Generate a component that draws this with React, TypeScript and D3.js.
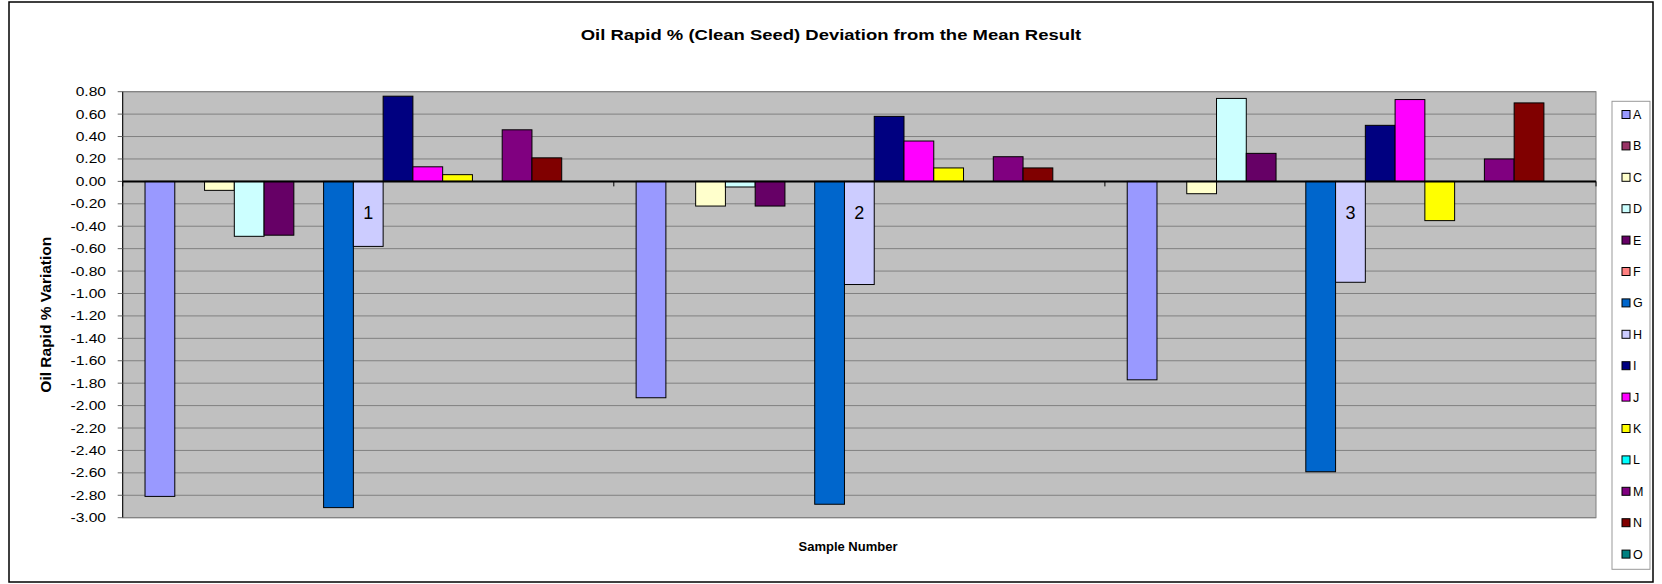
import React from "react";
import * as d3 from "d3";

const categories = ["1", "2", "3"];
const seriesNames = ["A", "B", "C", "D", "E", "F", "G", "H", "I", "J", "K", "L", "M", "N", "O"];
const seriesColors = ["#9999FF", "#993366", "#FFFFCC", "#CCFFFF", "#660066", "#FF8080", "#0066CC", "#CCCCFF", "#000080", "#FF00FF", "#FFFF00", "#00FFFF", "#800080", "#800000", "#008080"];

// values per series, one per sample (null = no result)
const valuesA = [-2.81, -1.93, -1.77];
const valuesB = [null, null, null];
const valuesC = [-0.08, -0.22, -0.11];
const valuesD = [-0.49, -0.05, 0.74];
const valuesE = [-0.48, -0.22, 0.25];
const valuesF = [null, null, null];
const valuesG = [-2.91, -2.88, -2.59];
const valuesH = [-0.58, -0.92, -0.9];
const valuesI = [0.76, 0.58, 0.5];
const valuesJ = [0.13, 0.36, 0.73];
const valuesK = [0.06, 0.12, -0.35];
const valuesL = [null, null, null];
const valuesM = [0.46, 0.22, 0.2];
const valuesN = [0.21, 0.12, 0.7];
const valuesO = [null, null, null];

const yMin = -3.0;
const yMax = 0.8;
const yStep = 0.2;

const title = "Oil Rapid % (Clean Seed) Deviation from the Mean Result";
const yTitle = "Oil Rapid % Variation";
const xTitle = "Sample Number";

const allValues: (number | null)[][] = [valuesA, valuesB, valuesC, valuesD, valuesE, valuesF, valuesG, valuesH, valuesI, valuesJ, valuesK, valuesL, valuesM, valuesN, valuesO];

const W = 1662;
const H = 584;
const plotL = 122.7;
const plotR = 1596;
const plotT = 91.7;
const plotB = 517.7;
const FONT = "'Liberation Sans', Arial, Helvetica, sans-serif";

export default function App() {
  const y = d3.scaleLinear().domain([yMin, yMax]).range([plotB, plotT]);
  const x0 = d3.scaleBand().domain(categories).range([plotL, plotR]).padding(0);
  const x1 = d3.scaleBand().domain(seriesNames).range([0, x0.bandwidth()]).paddingInner(0).paddingOuter(0.75);
  const nTicks = Math.round((yMax - yMin) / yStep);
  const yTicks = d3.range(0, nTicks + 1).map((i) => +(yMin + i * yStep).toFixed(2));
  const fmt = (v: number) => (Math.abs(v) < 1e-9 ? 0 : v).toFixed(2);
  const y0 = y(0);
  const legendTop = 101.3;
  const legendStep = 31.4;

  return (
    <svg width={W} height={H} style={{ position: "absolute", left: 0, top: 0, background: "#fff" }} fontFamily={FONT}>
      <rect x={9} y={2} width={1644} height={580} fill="#fff" stroke="#000" strokeWidth={1.5} />
      <text x={831} y={40} textAnchor="middle" fontWeight="bold" fontSize={14} transform="translate(831,0) scale(1.32,1) translate(-831,0)">{title}</text>
      {/* plot area */}
      <rect x={plotL} y={plotT} width={plotR - plotL} height={plotB - plotT} fill="#C0C0C0" stroke="#808080" strokeWidth={1} />
      {yTicks.map((t) => (
        <line key={"g" + t} x1={plotL} x2={plotR} y1={y(t)} y2={y(t)} stroke="#808080" strokeWidth={1} />
      ))}
      {/* y axis */}
      <line x1={plotL} x2={plotL} y1={plotT} y2={plotB} stroke="#000" strokeWidth={1} />
      {yTicks.map((t) => (
        <g key={"t" + t}>
          <line x1={plotL - 5} x2={plotL} y1={y(t)} y2={y(t)} stroke="#666" strokeWidth={1} />
          <text x={0} y={0} transform={`translate(106,${y(t) + 4.5}) scale(1.2,1)`} textAnchor="end" fontSize={13}>{fmt(t)}</text>
        </g>
      ))}
      {/* bars */}
      {seriesNames.map((s, si) =>
        categories.map((c, ci) => {
          const v = allValues[si][ci];
          if (v === null || v === undefined) return null;
          const bx = (x0(c) as number) + (x1(s) as number);
          const top = Math.min(y(v), y0);
          const h = Math.abs(y(v) - y0);
          return <rect key={s + c} x={bx} y={top} width={x1.bandwidth()} height={h} fill={seriesColors[si]} stroke="#000" strokeWidth={1} />;
        })
      )}
      {/* zero line + category ticks */}
      <line x1={plotL} x2={plotR} y1={y0} y2={y0} stroke="#000" strokeWidth={2} />
      {[...categories.map((c) => x0(c) as number), plotR].map((xx, i) => (
        <line key={"ct" + i} x1={xx} x2={xx} y1={y0} y2={y0 + 5} stroke="#000" strokeWidth={1} />
      ))}
      {categories.map((c) => (
        <text key={"cl" + c} x={(x0(c) as number) + x0.bandwidth() / 2} y={219} textAnchor="middle" fontSize={18}>{c}</text>
      ))}
      {/* axis titles */}
      <text transform={`translate(50.5,${(plotT + plotB) / 2 + 10}) rotate(-90)`} textAnchor="middle" fontWeight="bold" fontSize={15.5}>{yTitle}</text>
      <text x={848} y={551} textAnchor="middle" fontWeight="bold" fontSize={13}>{xTitle}</text>
      {/* legend */}
      <rect x={1612} y={legendTop} width={38} height={468} fill="#fff" stroke="#999" strokeWidth={1} />
      {seriesNames.map((s, i) => {
        const cy = 114.5 + i * legendStep;
        return (
          <g key={"l" + s}>
            <rect x={1622} y={cy - 4} width={8} height={8} fill={seriesColors[i]} stroke="#000" strokeWidth={1} />
            <text x={1633} y={cy + 4.5} fontSize={12.5}>{s}</text>
          </g>
        );
      })}
    </svg>
  );
}
